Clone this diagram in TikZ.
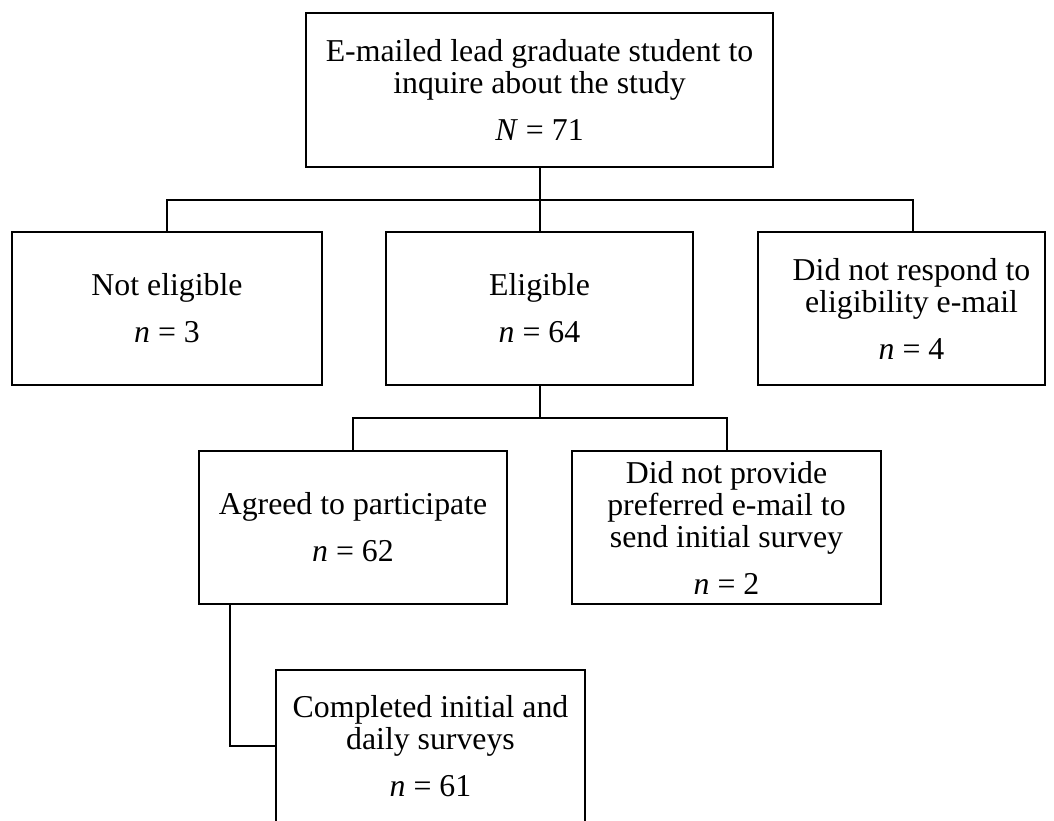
\documentclass[tikz,border=0pt]{standalone}
\usepackage{fontspec}
\setmainfont{Liberation Serif}
\begin{document}
\begin{tikzpicture}[x=1pt,y=-1pt,
  box/.style={draw, line width=2pt, inner sep=0pt, align=center,
    font=\fontsize{31.8}{32}\selectfont},
  txt/.style={inner sep=0pt, align=center, font=\fontsize{31.8}{32}\selectfont},
  link/.style={line width=2pt}]
\clip (0,0) rectangle (1054,820);
\fill[white] (0,0) rectangle (1054,820);
% nodes
\node[box, minimum width=467pt, minimum height=154pt] (top) at (539.5,90)
  {E-mailed lead graduate student to\\inquire about the study\\[15pt]\textit{N} = 71};
\node[box, minimum width=310pt, minimum height=153pt] (noteli) at (167,308.5)
  {Not eligible\\[15pt]\textit{n} = 3};
\node[box, minimum width=307pt, minimum height=153pt] (eli) at (539.5,308.5)
  {Eligible\\[15pt]\textit{n} = 64};
\node[box, minimum width=287pt, minimum height=153pt] (nores) at (901.5,308.5) {};
\node[txt] (norestext) at (911.5,308.5)
  {Did not respond to\\eligibility e-mail\\[15pt]\textit{n} = 4};
\node[box, minimum width=308pt, minimum height=153pt] (agreed) at (353,527.5)
  {Agreed to participate\\[15pt]\textit{n} = 62};
\node[box, minimum width=309pt, minimum height=153pt] (noprov) at (726.5,527.5)
  {Did not provide\\preferred e-mail to\\send initial survey\\[15pt]\textit{n} = 2};
\node[box, minimum width=309pt, minimum height=152pt] (done) at (430.5,746)
  {Completed initial and\\daily surveys\\[15pt]\textit{n} = 61};
% junction coordinates
\coordinate (j1) at (539.5,200);
\coordinate (j2) at (539.5,418);
% connectors
\draw[link] (top.south) -- (eli.north);
\draw[link] (noteli.north) -- (noteli.north |- j1) -- (913,200) coordinate (jr) -- (jr |- nores.north);
\draw[link] (eli.south) -- (j2);
\draw[link] (agreed.north) -- (agreed.north |- j2) -- (noprov.north |- j2) -- (noprov.north);
\draw[link] (230,604) coordinate (ab) -- (ab |- done.west) -- (done.west);
\end{tikzpicture}
\end{document}
